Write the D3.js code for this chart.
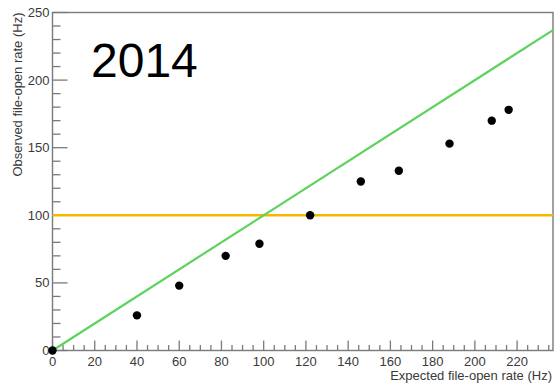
<!DOCTYPE html>
<html>
<head>
<meta charset="utf-8">
<script src="https://cdn.jsdelivr.net/npm/d3@7"></script>
<style>
  html, body { margin: 0; padding: 0; background: #fff; }
  svg { display: block; font-family: "Liberation Sans", Arial, Helvetica, sans-serif; }
</style>
</head>
<body>
<svg id="chart" width="555" height="383"></svg>
<script>
// Measured file-open rates
const expectedRate = [0, 40, 60, 82, 98, 122, 146, 164, 188, 208, 216];
const observedRate = [0, 26, 48, 70, 79, 100, 125, 133, 153, 170, 178];

// Axis settings and reference lines
const xMax = 237;
const yMax = 250;
const xMajorTicks = [0, 20, 40, 60, 80, 100, 120, 140, 160, 180, 200, 220];
const yMajorTicks = [0, 50, 100, 150, 200, 250];
const targetRate = 100;          // horizontal target line
const titleText = "2014";
const xTitle = "Expected file-open rate (Hz)";
const yTitle = "Observed file-open rate (Hz)";

const svg = d3.select("#chart");
const frame = { left: 52.5, right: 553, top: 12.5, bottom: 350.5 };

const x = d3.scaleLinear().domain([0, xMax]).range([frame.left, frame.right]);
const y = d3.scaleLinear().domain([0, yMax]).range([frame.bottom, frame.top]);

const axisColor = "#7a7a7a";
const labelColor = "#3a3a3a";

// frame
svg.append("rect")
  .attr("x", frame.left).attr("y", frame.top)
  .attr("width", frame.right - frame.left).attr("height", frame.bottom - frame.top)
  .attr("fill", "none").attr("stroke", axisColor).attr("stroke-width", 1.4);

// x axis ticks: majors every 20, minors every 5
const xMinor = d3.range(0, xMax + 0.001, 5).filter(v => v % 20 !== 0);
svg.append("g").selectAll("line").data(xMinor).join("line")
  .attr("x1", d => x(d)).attr("x2", d => x(d))
  .attr("y1", frame.bottom).attr("y2", frame.bottom - 5.5)
  .attr("stroke", axisColor).attr("stroke-width", 1.3);
svg.append("g").selectAll("line").data(xMajorTicks).join("line")
  .attr("x1", d => x(d)).attr("x2", d => x(d))
  .attr("y1", frame.bottom).attr("y2", frame.bottom - 10)
  .attr("stroke", axisColor).attr("stroke-width", 1.3);
svg.append("g").selectAll("text").data(xMajorTicks).join("text")
  .attr("x", d => x(d)).attr("y", frame.bottom + 15)
  .attr("text-anchor", "middle")
  .attr("font-size", 13).attr("fill", labelColor)
  .text(d => d);

// y axis ticks: majors every 50, minors every 10
const yMinor = d3.range(0, yMax + 0.001, 10).filter(v => v % 50 !== 0);
svg.append("g").selectAll("line").data(yMinor).join("line")
  .attr("x1", frame.left).attr("x2", frame.left + 8)
  .attr("y1", d => y(d)).attr("y2", d => y(d))
  .attr("stroke", axisColor).attr("stroke-width", 1.3);
svg.append("g").selectAll("line").data(yMajorTicks).join("line")
  .attr("x1", frame.left).attr("x2", frame.left + 15)
  .attr("y1", d => y(d)).attr("y2", d => y(d))
  .attr("stroke", axisColor).attr("stroke-width", 1.3);
svg.append("g").selectAll("text").data(yMajorTicks).join("text")
  .attr("x", frame.left - 3).attr("y", d => y(d) + 4.5)
  .attr("text-anchor", "end")
  .attr("font-size", 13).attr("fill", labelColor)
  .text(d => d);

// axis titles
svg.append("text")
  .attr("x", frame.right - 1).attr("y", 379.5)
  .attr("text-anchor", "end")
  .attr("font-size", 13).attr("fill", labelColor)
  .text(xTitle);
svg.append("text")
  .attr("transform", `translate(22, ${frame.top}) rotate(-90)`)
  .attr("text-anchor", "end")
  .attr("font-size", 13).attr("fill", labelColor)
  .text(yTitle);

// target line
svg.append("line")
  .attr("x1", x(0)).attr("x2", x(xMax))
  .attr("y1", y(targetRate)).attr("y2", y(targetRate))
  .attr("stroke", "#f5b700").attr("stroke-width", 2.6);

// identity line (observed = expected)
const diag = d3.line().x(d => x(d)).y(d => y(d));
svg.append("path")
  .attr("d", diag([0, xMax]))
  .attr("fill", "none").attr("stroke", "#5dd35d").attr("stroke-width", 2.2);

// measurements
svg.append("g").selectAll("circle").data(expectedRate).join("circle")
  .attr("cx", d => x(d))
  .attr("cy", (d, i) => y(observedRate[i]))
  .attr("r", 4.2)
  .attr("fill", "#000");

// year label
svg.append("text")
  .attr("x", 91).attr("y", 77)
  .attr("font-size", 48).attr("fill", "#000")
  .text(titleText);
</script>
</body>
</html>
